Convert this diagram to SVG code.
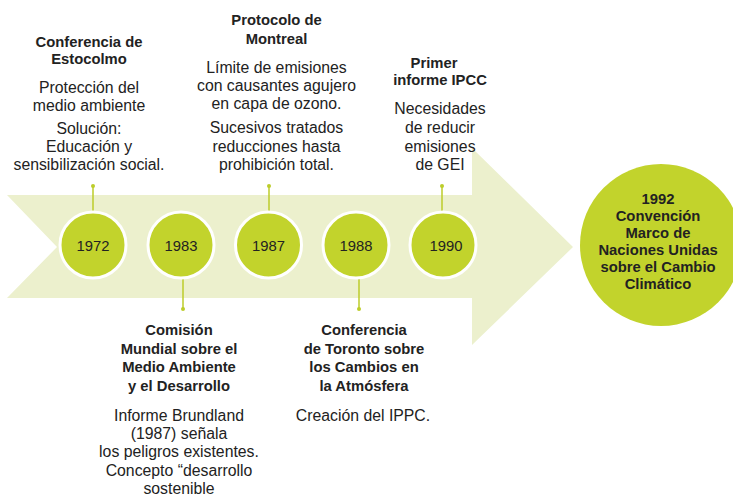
<svg xmlns="http://www.w3.org/2000/svg" width="733" height="497" viewBox="0 0 733 497">
<style>
  text { font-family: "Liberation Sans", Arial, sans-serif; fill: #222; text-anchor: middle; }
  .t { font-size: 14.8px; font-weight: 700; }
  .b { font-size: 15.8px; }
  .yr { font-size: 14.8px; }
  .year { fill: #c2d32c; stroke: #ffffff; stroke-width: 3; }
  .conn { stroke: #bccd2a; stroke-width: 1.5; fill: none; }
  .dot { fill: #bccd2a; }
</style>
<rect width="733" height="497" fill="#ffffff"/>
<g id="arrow">
  <polygon points="7,195 472,195 472,148 573,247 472,345 472,298 7,298 57,247" fill="#ecf0cd"/>
</g>
<g id="connectors">
  <line class="conn" x1="93" y1="186" x2="93" y2="212"/>
  <circle class="dot" cx="93" cy="186" r="2"/>
  <line class="conn" x1="183" y1="278" x2="183" y2="309"/>
  <circle class="dot" cx="183" cy="309" r="2"/>
  <line class="conn" x1="269" y1="186" x2="269" y2="212"/>
  <circle class="dot" cx="269" cy="186" r="2"/>
  <line class="conn" x1="359" y1="278" x2="359" y2="309"/>
  <circle class="dot" cx="359" cy="309" r="2"/>
  <line class="conn" x1="442" y1="186" x2="442" y2="212"/>
  <circle class="dot" cx="442" cy="186" r="2"/>
</g>
<g id="n1972">
  <circle class="year" cx="93" cy="245" r="33"/>
  <text class="yr" x="93" y="250.5">1972</text>
</g>
<g id="n1983">
  <circle class="year" cx="181" cy="245" r="33"/>
  <text class="yr" x="181" y="250.5">1983</text>
</g>
<g id="n1987">
  <circle class="year" cx="268.5" cy="245" r="33"/>
  <text class="yr" x="268.5" y="250.5">1987</text>
</g>
<g id="n1988">
  <circle class="year" cx="356" cy="245" r="33"/>
  <text class="yr" x="356" y="250.5">1988</text>
</g>
<g id="n1990">
  <circle class="year" cx="443" cy="245" r="33"/>
  <text class="yr" x="446" y="250.5">1990</text>
</g>
<g id="n1992">
  <circle cx="661" cy="245" r="81" fill="#c2d32c"/>
  <text class="t" x="658" y="204">1992</text>
  <text class="t" x="658" y="221">Convención</text>
  <text class="t" x="658" y="238">Marco de</text>
  <text class="t" x="658" y="255">Naciones Unidas</text>
  <text class="t" x="658" y="272">sobre el Cambio</text>
  <text class="t" x="658" y="289">Climático</text>
</g>
<g id="estocolmo">
  <text class="t" x="89" y="47">Conferencia de</text>
  <text class="t" x="89" y="64">Estocolmo</text>
  <text class="b" x="89" y="93">Protección del</text>
  <text class="b" x="89" y="111">medio ambiente</text>
  <text class="b" x="89" y="134">Solución:</text>
  <text class="b" x="89" y="152">Educación y</text>
  <text class="b" x="89" y="170">sensibilización social.</text>
</g>
<g id="montreal">
  <text class="t" x="276.5" y="25">Protocolo de</text>
  <text class="t" x="276.5" y="44">Montreal</text>
  <text class="b" x="276.5" y="73">Límite de emisiones</text>
  <text class="b" x="276.5" y="91">con causantes agujero</text>
  <text class="b" x="276.5" y="109">en capa de ozono.</text>
  <text class="b" x="276.5" y="133">Sucesivos tratados</text>
  <text class="b" x="276.5" y="152">reducciones hasta</text>
  <text class="b" x="276.5" y="170">prohibición total.</text>
</g>
<g id="ipcc">
  <text class="t" x="434" y="68">Primer</text>
  <text class="t" x="440" y="85">informe IPCC</text>
  <text class="b" x="440" y="114">Necesidades</text>
  <text class="b" x="440" y="133">de reducir</text>
  <text class="b" x="440" y="152">emisiones</text>
  <text class="b" x="440" y="170">de GEI</text>
</g>
<g id="comision">
  <text class="t" x="179" y="335">Comisión</text>
  <text class="t" x="179" y="354">Mundial sobre el</text>
  <text class="t" x="179" y="372">Medio Ambiente</text>
  <text class="t" x="179" y="391">y el Desarrollo</text>
  <text class="b" x="179" y="421">Informe Brundland</text>
  <text class="b" x="179" y="439">(1987) señala</text>
  <text class="b" x="179" y="457">los peligros existentes.</text>
  <text class="b" x="179" y="476">Concepto “desarrollo</text>
  <text class="b" x="179" y="494">sostenible</text>
</g>
<g id="toronto">
  <text class="t" x="364" y="335">Conferencia</text>
  <text class="t" x="364" y="354">de Toronto sobre</text>
  <text class="t" x="364" y="372">los Cambios en</text>
  <text class="t" x="364" y="391">la Atmósfera</text>
  <text class="b" x="363" y="421">Creación del IPPC.</text>
</g>
</svg>
